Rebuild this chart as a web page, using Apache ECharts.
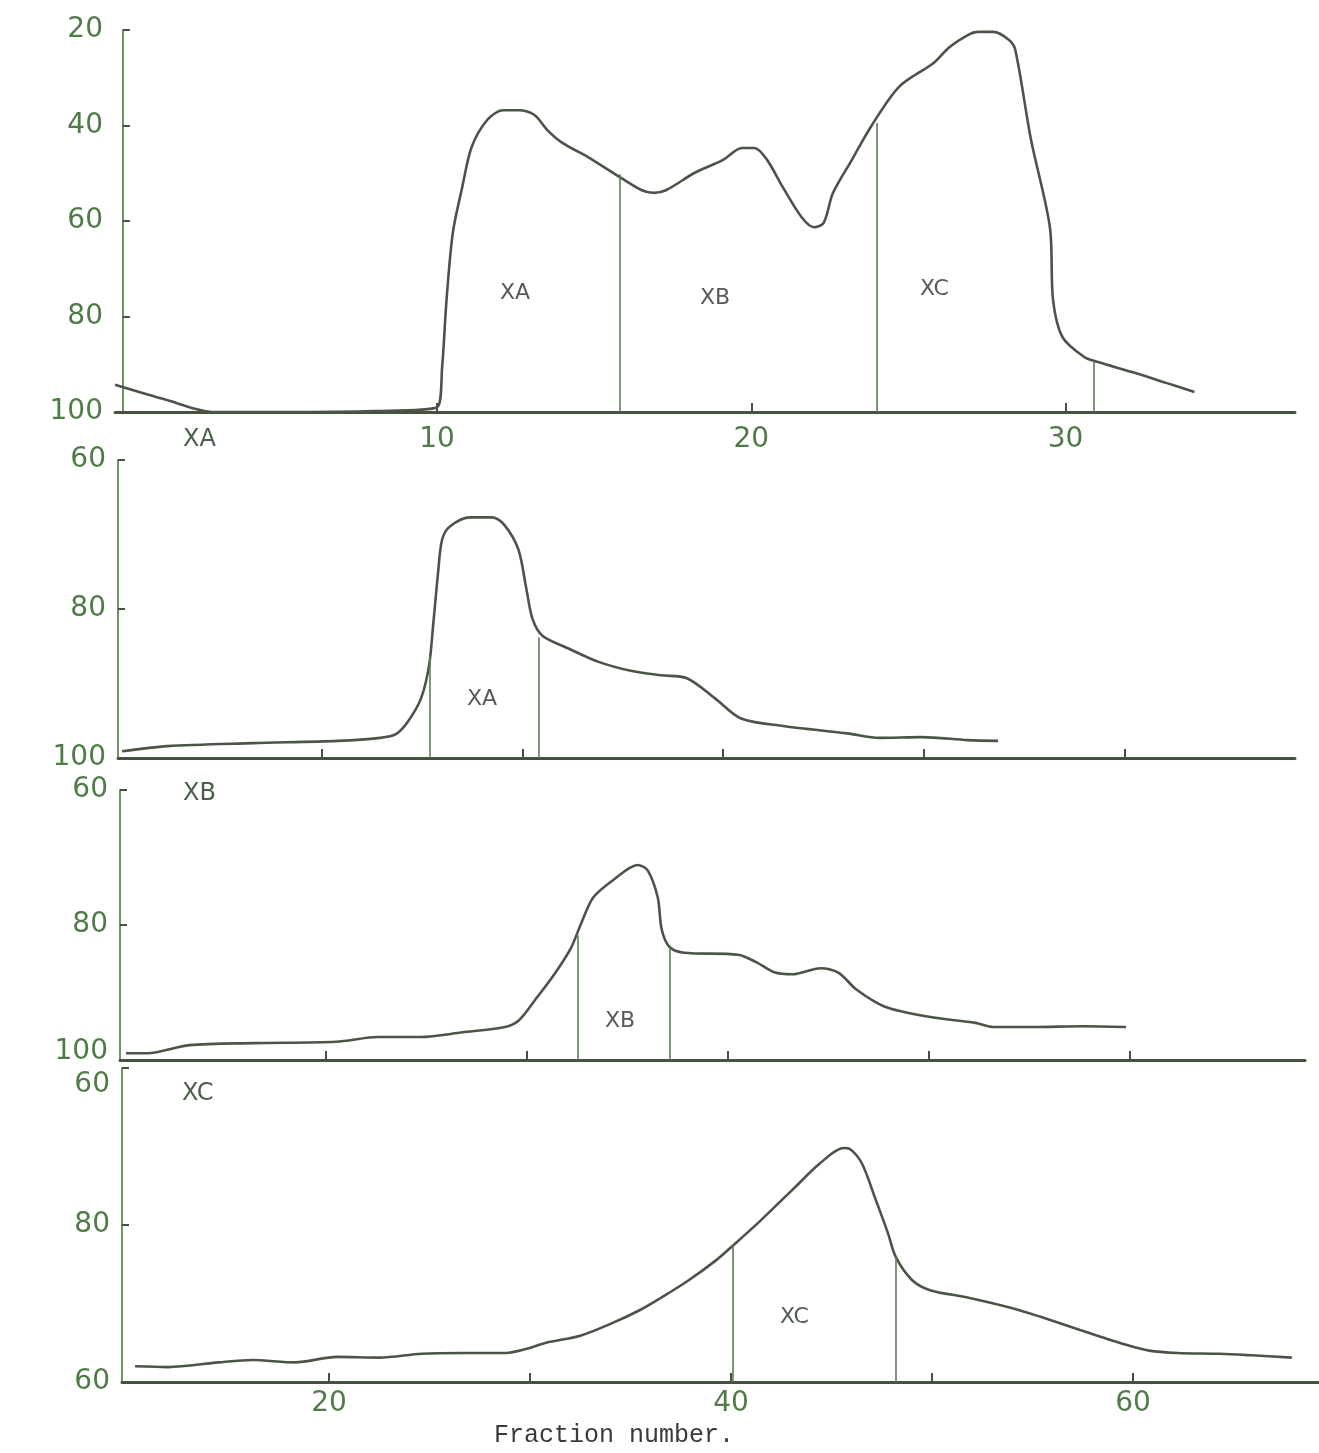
<!DOCTYPE html>
<html>
<head>
<meta charset="utf-8">
<script src="https://cdn.jsdelivr.net/npm/echarts@6/dist/echarts.min.js"></script>
<style>
html,body{margin:0;padding:0;background:#ffffff;}
#chart{width:1319px;height:1453px;}
</style>
</head>
<body>
<div id="chart"></div>
<script>
// ---------- Data ----------
// Panel 1 (whole run): fraction number vs. % transmission (inverted axis)
const X1 = [-0.25, 1.4, 2.9, 5, 8, 10.0, 10.16, 10.3, 10.5, 10.8, 11.1, 11.6, 12.1, 12.6, 13.1, 13.5, 14.0, 14.8, 15.6, 16.5, 16.9, 17.3, 18.2, 19.1, 19.7, 20.1, 20.5, 21.0, 21.6, 22.0, 22.3, 22.6, 23.2, 23.8, 24.7, 25.8, 26.3, 26.9, 27.2, 27.7, 28.2, 28.4, 28.9, 29.5, 29.6, 29.9, 30.6, 31.0, 32.2, 33.2, 34.1];
const V1 = [94.3, 97.5, 100, 100, 99.8, 99.0, 90.6, 76.5, 62.5, 52.9, 44.5, 38.8, 36.8, 36.8, 37.8, 40.9, 43.7, 46.6, 49.9, 53.5, 54.1, 53.5, 49.9, 47.2, 44.7, 44.7, 47.2, 52.9, 59.2, 61.3, 60.4, 54.1, 47.2, 40.3, 31.9, 26.9, 23.6, 21.0, 20.4, 20.4, 22.1, 24.2, 43.0, 61.3, 76.5, 84.3, 88.5, 89.5, 91.8, 93.9, 95.8];
const CUT1_X = [15.8, 24.0, 30.9];
const CUT1_TOP = [50.2, 39.5, 89.4];

// Panel 2 (XA rechromatographed)
const X2 = [10.05, 12.3, 16.6, 20.8, 22.9, 23.7, 24.3, 24.95, 25.35, 25.55, 25.8, 26.0, 26.4, 27.4, 28.5, 29.1, 29.8, 30.2, 30.5, 31.0, 32.3, 33.8, 35.4, 36.9, 38.2, 39.6, 40.9, 43.0, 46.2, 47.8, 49.9, 52.2, 53.7];
const V2 = [99.1, 98.4, 98.0, 97.7, 97.3, 96.8, 95.1, 92.0, 87.6, 82.3, 75.1, 70.7, 68.9, 67.7, 67.7, 68.7, 72.0, 77.3, 81.3, 83.6, 85.3, 87.1, 88.3, 88.9, 89.3, 92.0, 94.7, 95.7, 96.7, 97.3, 97.2, 97.6, 97.7];
const CUT2_X = [25.4, 30.8];
const CUT2_TOP = [86.3, 83.8];

// Panel 3 (XB rechromatographed)
const X3 = [10.05, 11.1, 13.2, 16.4, 20.5, 22.6, 24.7, 26.8, 28.9, 29.6, 30.4, 31.4, 32.2, 32.7, 33.3, 34.3, 35.5, 36.0, 36.5, 36.7, 37.1, 37.8, 40.5, 41.4, 42.3, 43.2, 44.6, 45.5, 46.4, 47.8, 50.0, 52.3, 53.2, 55.3, 57.6, 59.8];
const V3 = [99.0, 99.0, 97.8, 97.5, 97.3, 96.6, 96.6, 95.9, 95.1, 94.1, 91.1, 87.1, 83.3, 79.7, 75.9, 73.3, 71.1, 71.9, 75.9, 80.7, 83.3, 84.1, 84.4, 85.5, 87.0, 87.3, 86.4, 87.1, 89.6, 92.1, 93.6, 94.5, 95.1, 95.1, 95.0, 95.1];
const CUT3_X = [32.5, 37.1];
const CUT3_TOP = [81.5, 83.3];

// Panel 4 (XC rechromatographed)
const X4 = [10.35, 12.0, 14.5, 16.2, 18.3, 20.4, 22.5, 24.6, 26.7, 28.8, 29.8, 30.8, 32.5, 34.0, 35.5, 36.5, 37.8, 39.2, 40.1, 41.4, 43.1, 44.4, 45.6, 45.9, 46.5, 47.2, 47.8, 48.2, 49.0, 49.9, 51.7, 54.0, 55.4, 57.4, 59.7, 60.8, 62.2, 64.3, 65.9, 67.9];
const V4 = [98.0, 98.1, 97.5, 97.2, 97.5, 96.8, 96.9, 96.4, 96.3, 96.3, 95.8, 95.0, 94.1, 92.6, 90.8, 89.3, 87.2, 84.6, 82.6, 79.6, 75.4, 72.2, 70.2, 70.3, 72.1, 76.8, 81.0, 84.1, 87.0, 88.3, 89.2, 90.6, 91.7, 93.4, 95.3, 96.0, 96.3, 96.4, 96.6, 96.9];
const CUT4_X = [40.1, 48.2];
const CUT4_TOP = [82.6, 84.1];

// Tick values and labels
const Y1_TICKS = [20, 40, 60, 80, 100];
const Y1_LABELS = ['20', '40', '60', '80', '100'];
const Y2_TICKS = [60, 80, 100];
const Y2_LABELS = ['60', '80', '100'];
const Y3_LABELS = ['60', '80', '100'];
const Y4_LABELS = ['60', '80', '60'];
const X1_TICKS = [10, 20, 30];
const X1_LABELS = ['10', '20', '30'];
const X_TICKS = [20, 30, 40, 50, 60];
const X4_LABEL_VALUES = [20, 40, 60];
const X4_LABELS = ['20', '40', '60'];
const X_TITLE = 'Fraction number.';

// ---------- Styling ----------
const GREEN = '#4f7b47';
const AXIS_GREEN = '#6b9660';
const BASE = '#44523f';
const CURVE = '#4a5547';
const CUTC = '#5f7d58';
const NUMFONT = 'DejaVu Sans';

const grids = [
  {left: 115, top: 30, width: 1180, height: 382},
  {left: 118, top: 460, width: 1177, height: 298},
  {left: 120, top: 790, width: 1185, height: 270},
  {left: 122, top: 1068, width: 1197, height: 314}
];
const xRanges = [[-0.25, 37.3], [9.85, 68.5], [9.75, 68.7], [9.7, 69.25]];
const yRanges = [[20, 100], [60, 100], [60, 100], [60, 100]];
const yLabelSets = [[Y1_TICKS, Y1_LABELS], [Y2_TICKS, Y2_LABELS], [Y2_TICKS, Y3_LABELS], [Y2_TICKS, Y4_LABELS]];
// labels nudged away from a neighbouring panel's label (panel index -> tick value -> rich style)
const labelNudge = {2: {100: 'up'}, 3: {60: 'down'}};

const numStyle = {color: GREEN, fontSize: 28, fontFamily: NUMFONT};

function xAxisFor(i) {
  const ax = {
    type: 'value', gridIndex: i, min: xRanges[i][0], max: xRanges[i][1],
    axisLine: {show: true, onZero: false, lineStyle: {color: BASE, width: 3}},
    splitLine: {show: false},
    axisTick: {show: true, inside: true, length: 9, lineStyle: {color: BASE, width: 2},
               customValues: i === 0 ? X1_TICKS : X_TICKS},
    axisLabel: {show: false}
  };
  if (i === 0) {
    ax.axisLabel = Object.assign({show: true, customValues: X1_TICKS, margin: 14,
      formatter: v => X1_LABELS[X1_TICKS.indexOf(v)]}, numStyle);
  }
  if (i === 3) {
    ax.axisLabel = Object.assign({show: true, customValues: X4_LABEL_VALUES, margin: 8,
      formatter: v => X4_LABELS[X4_LABEL_VALUES.indexOf(v)]}, numStyle);
  }
  return ax;
}
function yAxisFor(i) {
  const ticks = yLabelSets[i][0], labels = yLabelSets[i][1];
  const nudge = labelNudge[i] || {};
  return {
    type: 'value', gridIndex: i, inverse: true,
    min: yRanges[i][0], max: yRanges[i][1], interval: 20,
    axisLine: {show: true, lineStyle: {color: AXIS_GREEN, width: 2}},
    axisTick: {show: true, inside: true, length: 7, lineStyle: {color: BASE, width: 2}},
    splitLine: {show: false},
    axisLabel: Object.assign({show: true, margin: 12,
      formatter: v => {
        const k = ticks.indexOf(v);
        if (k < 0) return '';
        return nudge[v] ? '{' + nudge[v] + '|' + labels[k] + '}' : labels[k];
      },
      rich: {
        up: Object.assign({padding: [0, 0, 16, 0]}, numStyle),
        down: Object.assign({padding: [34, 0, 0, 0]}, numStyle)
      }}, numStyle)
  };
}
function curveSeries(i, xs, vs, cutX, cutTop) {
  const yMax = yRanges[i][1];
  return {
    type: 'line', xAxisIndex: i, yAxisIndex: i,
    data: xs.map((x, k) => [x, vs[k]]),
    showSymbol: false, smooth: 0.3, silent: true,
    lineStyle: {color: CURVE, width: 2.6},
    markLine: {
      symbol: 'none', silent: true, label: {show: false},
      lineStyle: {color: CUTC, width: 1.6, type: 'solid'},
      data: cutX.map((x, k) => [{coord: [x, cutTop[k]]}, {coord: [x, yMax]}])
    }
  };
}

const textStyleIn = {fill: '#555b55', fontSize: 22, fontFamily: NUMFONT};
const textStylePanel = {fill: '#4a5f47', fontSize: 24, fontFamily: NUMFONT};
function txt(x, y, s, st) {
  return {type: 'text', left: x, top: y, style: Object.assign({text: s}, st)};
}

const option = {
  backgroundColor: '#ffffff',
  animation: false,
  grid: grids,
  xAxis: [0, 1, 2, 3].map(xAxisFor),
  yAxis: [0, 1, 2, 3].map(yAxisFor),
  series: [
    curveSeries(0, X1, V1, CUT1_X, CUT1_TOP),
    curveSeries(1, X2, V2, CUT2_X, CUT2_TOP),
    curveSeries(2, X3, V3, CUT3_X, CUT3_TOP),
    curveSeries(3, X4, V4, CUT4_X, CUT4_TOP)
  ],
  graphic: [
    txt(500, 282, 'XA', textStyleIn),
    txt(700, 287, 'XB', textStyleIn),
    txt(920, 278, 'XC', textStyleIn),
    txt(467, 688, 'XA', textStyleIn),
    txt(605, 1010, 'XB', textStyleIn),
    txt(780, 1306, 'XC', textStyleIn),
    txt(183, 428, 'XA', textStylePanel),
    txt(183, 782, 'XB', textStylePanel),
    txt(182, 1082, 'XC', textStylePanel),
    {type: 'text', left: 494, top: 1423,
     style: {text: X_TITLE, fill: '#3a3a3a', fontSize: 25, fontFamily: 'Liberation Mono'}}
  ]
};

const chart = echarts.init(document.getElementById('chart'), null, {renderer: 'canvas'});
chart.setOption(option);
</script>
</body>
</html>
